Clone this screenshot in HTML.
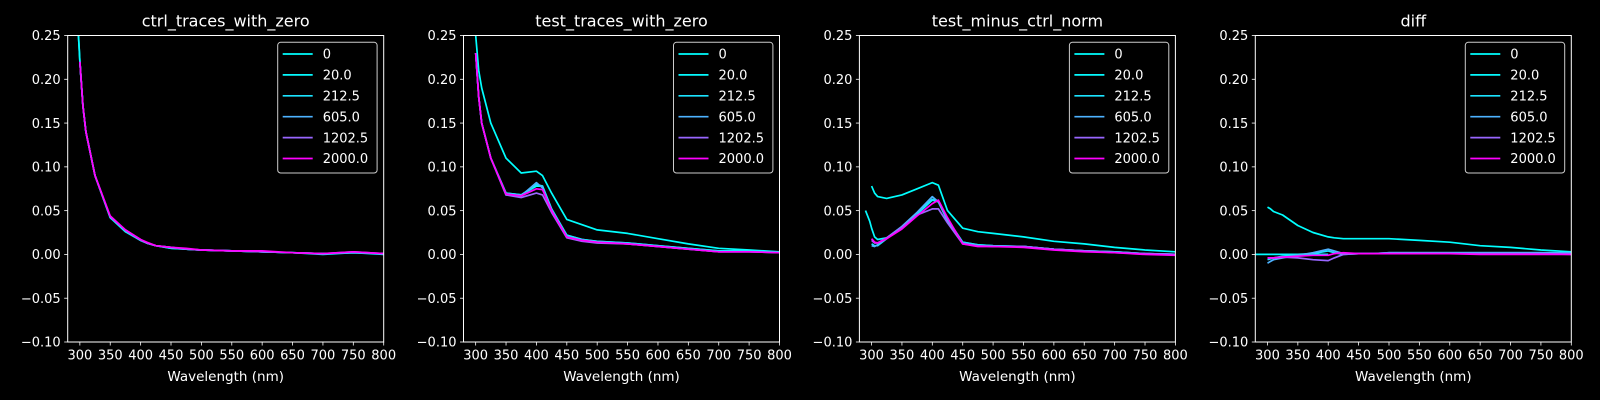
<!DOCTYPE html>
<html><head><meta charset="utf-8">
<style>
html,body{margin:0;padding:0;background:#000;}
svg{display:block;font-family:"DejaVu Sans","Liberation Sans",sans-serif;}
</style></head>
<body>
<svg id="fig" width="1600" height="400" viewBox="0 0 1600 400" xmlns="http://www.w3.org/2000/svg">
<rect x="0" y="0" width="1600" height="400" fill="#000"/>
</svg>
<script>
const panelTitles = ["ctrl_traces_with_zero","test_traces_with_zero","test_minus_ctrl_norm","diff"];
const seriesLabels = ["0","20.0","212.5","605.0","1202.5","2000.0"];
const seriesColors = ["#00ffff","#05faff","#1be4ff","#4db2ff","#9966ff","#ff00ff"];
const wavelengths = [280,290,297,300,305,310,325,350,375,400,410,425,450,475,500,550,600,650,700,750,800];
const xTicks = [300,350,400,450,500,550,600,650,700,750,800];
const yTicks = [-0.10,-0.05,0.00,0.05,0.10,0.15,0.20,0.25];
const yTickLabels = ["−0.10","−0.05","0.00","0.05","0.10","0.15","0.20","0.25"];

const ctrlValues = [
 [null,null,0.26,0.22,0.17,0.14,0.09,0.042,0.027,0.016,0.013,0.010,0.007,0.006,0.005,0.004,0.003,0.002,0.000,0.002,0.000],
 [null,null,0.26,0.22,0.17,0.14,0.09,0.042,0.026,0.016,0.013,0.010,0.007,0.006,0.005,0.004,0.003,0.002,0.001,0.002,0.001],
 [null,null,null,0.22,0.17,0.14,0.09,0.043,0.027,0.016,0.013,0.010,0.008,0.006,0.005,0.004,0.003,0.002,0.001,0.002,0.001],
 [null,null,null,0.22,0.17,0.14,0.09,0.043,0.027,0.016,0.013,0.010,0.008,0.006,0.005,0.004,0.003,0.002,0.001,0.002,0.001],
 [null,null,null,0.22,0.17,0.14,0.09,0.043,0.028,0.017,0.013,0.010,0.008,0.006,0.005,0.004,0.003,0.002,0.001,0.003,0.001],
 [null,null,null,0.22,0.17,0.14,0.09,0.044,0.028,0.017,0.014,0.010,0.008,0.007,0.005,0.004,0.004,0.002,0.001,0.003,0.001]
];
const testValues = [
 [null,null,0.26,0.25,0.21,0.19,0.15,0.11,0.093,0.095,0.090,0.070,0.040,0.034,0.028,0.024,0.018,0.012,0.007,0.005,0.003],
 [null,null,null,0.23,0.18,0.15,0.11,0.070,0.068,0.078,0.078,0.052,0.022,0.017,0.015,0.013,0.010,0.007,0.004,0.004,0.002],
 [null,null,null,0.23,0.18,0.15,0.11,0.070,0.068,0.080,0.078,0.052,0.022,0.017,0.015,0.013,0.010,0.007,0.004,0.004,0.002],
 [null,null,null,0.23,0.18,0.15,0.11,0.068,0.067,0.082,0.076,0.050,0.020,0.016,0.014,0.012,0.009,0.006,0.003,0.003,0.002],
 [null,null,null,0.23,0.18,0.15,0.11,0.068,0.065,0.070,0.068,0.048,0.019,0.015,0.013,0.012,0.009,0.006,0.003,0.003,0.002],
 [null,null,null,0.23,0.18,0.15,0.11,0.069,0.067,0.075,0.074,0.050,0.020,0.016,0.014,0.012,0.009,0.006,0.003,0.003,0.002]
];
const normValues = [
 [null,null,null,0.078,0.070,0.066,0.064,0.068,0.075,0.082,0.079,0.050,0.030,0.026,0.024,0.020,0.015,0.012,0.008,0.005,0.003],
 [null,0.050,0.038,0.030,0.020,0.017,0.019,0.030,0.046,0.062,0.060,0.040,0.014,0.011,0.010,0.009,0.006,0.004,0.003,0.001,0.000],
 [null,null,null,0.012,0.010,0.010,0.018,0.031,0.047,0.063,0.061,0.040,0.014,0.011,0.010,0.009,0.006,0.004,0.003,0.001,0.000],
 [null,null,null,0.010,0.009,0.011,0.019,0.032,0.048,0.066,0.060,0.038,0.013,0.010,0.009,0.009,0.006,0.004,0.003,0.001,0.000],
 [null,null,null,0.016,0.013,0.013,0.019,0.031,0.045,0.052,0.052,0.036,0.012,0.010,0.009,0.009,0.006,0.004,0.002,0.001,0.000],
 [null,null,null,0.018,0.014,0.013,0.018,0.029,0.044,0.058,0.062,0.042,0.012,0.009,0.009,0.008,0.005,0.003,0.002,0.000,-0.001]
];
const diffValues = [
 [null,null,null,0.054,0.052,0.049,0.045,0.033,0.025,0.020,0.019,0.018,0.018,0.018,0.018,0.016,0.014,0.010,0.008,0.005,0.003],
 [0.000,0.000,0.000,0.000,0.000,0.000,0.000,0.000,0.000,0.000,null,null,null,null,null,null,null,null,null,null,null],
 [null,null,null,-0.006,-0.005,-0.004,-0.002,0.000,0.001,0.004,0.002,0.000,0.001,0.001,0.002,0.002,0.002,0.002,0.002,0.002,0.001],
 [null,null,null,-0.010,-0.008,-0.006,-0.004,-0.001,0.002,0.006,0.004,0.001,0.001,0.001,0.002,0.002,0.002,0.002,0.002,0.002,0.002],
 [null,null,null,-0.004,-0.004,-0.004,-0.003,-0.004,-0.006,-0.007,-0.004,0.000,0.001,0.001,0.001,0.001,0.001,0.001,0.001,0.001,0.000],
 [null,null,null,-0.004,-0.004,-0.004,-0.003,-0.002,-0.001,-0.001,0.001,0.002,0.001,0.001,0.001,0.001,0.001,0.000,0.000,0.000,0.000]
];
const panelValues = [ctrlValues,testValues,normValues,diffValues];

const NS = "http://www.w3.org/2000/svg";
const svg = document.getElementById("fig");
const panelLefts = [67.7,463.5,859.4,1255.3];
const axW = 316, axTop = 35.5, axBot = 342;
const xMin = 280, xMax = 800, yMin = -0.10, yMax = 0.25;
function mk(tag, attrs, parent){
  const e = document.createElementNS(NS, tag);
  for (const k in attrs) e.setAttribute(k, attrs[k]);
  parent.appendChild(e);
  return e;
}
panelTitles.forEach((title, p) => {
  const L = panelLefts[p];
  const xs = v => L + (v - xMin) / (xMax - xMin) * axW;
  const ys = v => axBot - (v - yMin) / (yMax - yMin) * (axBot - axTop);
  const g = mk("g", {}, svg);
  
  
  const clipId = "clip" + p;
  const cp = mk("clipPath", {id: clipId}, g);
  mk("rect", {x: L, y: axTop, width: axW, height: axBot - axTop}, cp);
  const sg = mk("g", {"clip-path": "url(#" + clipId + ")"}, g);
  panelValues[p].forEach((vals, s) => {
    let d = "", pen = false;
    vals.forEach((v, i) => {
      if (v === null) { pen = false; return; }
      d += (pen ? "L" : "M") + xs(wavelengths[i]).toFixed(1) + "," + ys(v).toFixed(1);
      pen = true;
    });
    const path = mk("path", {d: d, fill: "none", stroke: seriesColors[s], "stroke-width": 1.7, "stroke-linejoin": "round"}, sg);
    
    
  });
  const fr = mk("rect", {x: L, y: axTop, width: axW, height: axBot - axTop, fill: "none", stroke: "#fff", "stroke-width": 1}, g);
  
  
  xTicks.forEach(t => {
    const x = xs(t);
    mk("line", {x1: x, x2: x, y1: axBot, y2: axBot + 3.5, stroke: "#fff", "stroke-width": 0.8}, g);
    const tx = mk("text", {x: x, y: axBot + 17.5, fill: "#fff", "font-size": 13, "text-anchor": "middle"}, g);
    tx.textContent = t;
    
    
  });
  yTicks.forEach((t, i) => {
    const y = ys(t);
    mk("line", {x1: L - 3.5, x2: L, y1: y, y2: y, stroke: "#fff", "stroke-width": 0.8}, g);
    const ty = mk("text", {x: L - 7, y: y + 4.7, fill: "#fff", "font-size": 13, "text-anchor": "end"}, g);
    ty.textContent = yTickLabels[i];
    
    
  });
  const xl = mk("text", {x: L + axW / 2, y: 381, fill: "#fff", "font-size": 13.5, "text-anchor": "middle"}, g);
  xl.textContent = "Wavelength (nm)";
  
  
  const tt = mk("text", {x: L + axW / 2, y: 26.5, fill: "#fff", "font-size": 16, "text-anchor": "middle"}, g);
  tt.textContent = title;
  
  
  const lg = mk("g", {}, g);
  
  
  const lx = L + axW - 106;
  mk("rect", {x: lx, y: 42.3, width: 99.4, height: 130.7, rx: 3, fill: "#000", stroke: "#ccc", "stroke-width": 1}, lg);
  seriesLabels.forEach((lab, s) => {
    const y = 54 + s * 20.9;
    const e = mk("g", {}, lg);
    
    
    mk("line", {x1: lx + 5, x2: lx + 35, y1: y, y2: y, stroke: seriesColors[s], "stroke-width": 1.7}, e);
    const t = mk("text", {x: lx + 45, y: y + 4.7, fill: "#fff", "font-size": 13}, e);
    t.textContent = lab;
  });
});
</script>
</body></html>
